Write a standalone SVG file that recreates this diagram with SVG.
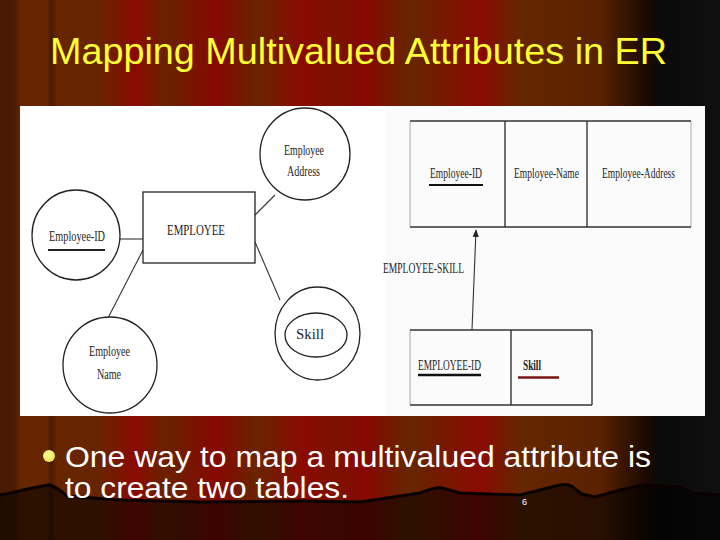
<svg xmlns="http://www.w3.org/2000/svg" width="720" height="540" viewBox="0 0 720 540">
<defs>
<linearGradient id="curtain" x1="0" y1="0" x2="720" y2="0" gradientUnits="userSpaceOnUse">
<stop offset="0" stop-color="#4a1a02"/>
<stop offset="0.0208" stop-color="#4a1c02"/>
<stop offset="0.0278" stop-color="#652600"/>
<stop offset="0.0653" stop-color="#652600"/>
<stop offset="0.0708" stop-color="#4a1a00"/>
<stop offset="0.0792" stop-color="#652600"/>
<stop offset="0.1389" stop-color="#682400"/>
<stop offset="0.1875" stop-color="#8a0a02"/>
<stop offset="0.2292" stop-color="#6a2200"/>
<stop offset="0.3014" stop-color="#860802"/>
<stop offset="0.3542" stop-color="#6a2400"/>
<stop offset="0.4236" stop-color="#8a0a02"/>
<stop offset="0.4653" stop-color="#7c1200"/>
<stop offset="0.5069" stop-color="#860802"/>
<stop offset="0.5694" stop-color="#652600"/>
<stop offset="0.6667" stop-color="#8a0a02"/>
<stop offset="0.7222" stop-color="#652600"/>
<stop offset="0.8333" stop-color="#5a2200"/>
<stop offset="0.8958" stop-color="#1c0a02"/>
<stop offset="0.9194" stop-color="#0a0a0a"/>
<stop offset="1" stop-color="#101010"/>
</linearGradient>
<radialGradient id="bulletg" cx="0.4" cy="0.35" r="0.7">
<stop offset="0" stop-color="#ffffa0"/>
<stop offset="1" stop-color="#e8e050"/>
</radialGradient>
<marker id="arrow" viewBox="0 0 10 10" refX="9" refY="5" markerWidth="7" markerHeight="7" orient="auto">
<path d="M0,1 L10,5 L0,9 z" fill="#222"/>
</marker>
<style>
.er{font-family:"Liberation Serif","Times New Roman",serif;font-size:15px;fill:#1e1e1e}
.tb{font-size:14px}
.shape{fill:#fff;stroke:#222;stroke-width:1.3}
.line{stroke:#333;stroke-width:1.1;fill:none}
.grid{stroke:#333;stroke-width:1.4}
.faint{stroke:#aaa;stroke-width:1}
.title{font-family:"Liberation Sans",Arial,sans-serif;font-size:36px;fill:#ffff33}
.body{font-family:"Liberation Sans",Arial,sans-serif;font-size:30px;fill:#ffffff}
</style>
</defs>

<!-- background curtain -->
<rect x="0" y="0" width="720" height="540" fill="url(#curtain)"/>
<path d="M0,495 L15,492 Q40,486 50,485 Q58,488 67,496 L120,500 L200,502 L300,501 L360,502 L420,493 Q435,487 442,488 L460,493 L520,495 L560,485 Q570,483 575,489 L582,494 L595,497 L620,490 L643,485 L680,487 L693,493 L720,495 L720,540 L0,540 Z" fill="#000" fill-opacity="0.55"/>
<path d="M0,495 L15,492 Q40,486 50,485 Q58,488 67,496 L120,500 L200,502 L300,501 L360,502 L420,493 Q435,487 442,488 L460,493 L520,495 L560,485 Q570,483 575,489 L582,494 L595,497 L620,490 L643,485 L680,487 L693,493 L720,495" fill="none" stroke="#0a0200" stroke-width="3"/>

<!-- title -->
<text class="title" x="50" y="64" textLength="617" lengthAdjust="spacingAndGlyphs">Mapping Multivalued Attributes in ER</text>

<!-- white panel -->
<rect x="20" y="106" width="685" height="310" fill="#ffffff"/>
<rect x="385" y="106" width="320" height="310" fill="#fbfbfb"/>

<!-- connectors -->
<g id="connectors">
<line class="line" x1="120" y1="239" x2="143" y2="239"/>
<line class="line" x1="143" y1="250" x2="108" y2="318"/>
<line class="line" x1="255" y1="215" x2="275" y2="195"/>
<line class="line" x1="255" y1="242" x2="280" y2="300"/>
<line class="line" x1="472" y1="330" x2="476" y2="230" marker-end="url(#arrow)"/>
</g>

<!-- ER nodes -->
<g id="employee">
<rect class="shape" x="143" y="192" width="112" height="71"/>
<text class="er" transform="translate(167,235) scale(0.67,1)" textLength="86.6" lengthAdjust="spacingAndGlyphs">EMPLOYEE</text>
</g>
<g id="employee-address">
<ellipse class="shape" cx="305" cy="154" rx="45" ry="46"/>
<text class="er" transform="translate(284,155) scale(0.67,1)" textLength="59.7" lengthAdjust="spacingAndGlyphs">Employee</text>
<text class="er" transform="translate(287,176) scale(0.67,1)" textLength="49.3" lengthAdjust="spacingAndGlyphs">Address</text>
</g>
<g id="employee-id">
<ellipse class="shape" cx="76" cy="235" rx="44" ry="45"/>
<text class="er" transform="translate(49,241) scale(0.67,1)" textLength="83.6" lengthAdjust="spacingAndGlyphs">Employee-ID</text>
<line x1="48" y1="250" x2="105" y2="250" stroke="#222" stroke-width="2.2"/>
</g>
<g id="employee-name">
<ellipse class="shape" cx="110" cy="365" rx="47" ry="48"/>
<text class="er" transform="translate(89,356) scale(0.67,1)" textLength="61.2" lengthAdjust="spacingAndGlyphs">Employee</text>
<text class="er" transform="translate(97,379) scale(0.67,1)" textLength="35.8" lengthAdjust="spacingAndGlyphs">Name</text>
</g>
<g id="skill">
<ellipse class="shape" cx="317.5" cy="333.5" rx="42.5" ry="46.5"/>
<ellipse class="shape" cx="316" cy="335" rx="31" ry="22"/>
<text class="er" font-size="17" transform="translate(296,339) scale(0.67,1)" textLength="41.8" lengthAdjust="spacingAndGlyphs">Skill</text>
</g>

<!-- relational tables -->
<g id="employee-table">
<line class="faint" x1="410" y1="121" x2="410" y2="227"/>
<line class="faint" x1="691" y1="121" x2="691" y2="227"/>
<line class="grid" x1="410" y1="121" x2="691" y2="121"/>
<line class="grid" x1="410" y1="227" x2="691" y2="227" stroke-width="2"/>
<line class="grid" x1="505" y1="121" x2="505" y2="227"/>
<line class="grid" x1="587" y1="121" x2="587" y2="227"/>
<text class="er tb" transform="translate(430,178) scale(0.67,1)" textLength="77.6" lengthAdjust="spacingAndGlyphs">Employee-ID</text>
<line x1="429" y1="185" x2="483" y2="185" stroke="#111" stroke-width="2.2"/>
<text class="er tb" transform="translate(514,178) scale(0.67,1)" textLength="97" lengthAdjust="spacingAndGlyphs">Employee-Name</text>
<text class="er tb" transform="translate(602,178) scale(0.67,1)" textLength="109" lengthAdjust="spacingAndGlyphs">Employee-Address</text>
</g>
<g id="employee-skill-label">
<text class="er tb" transform="translate(383,273) scale(0.67,1)" textLength="120.9" lengthAdjust="spacingAndGlyphs">EMPLOYEE-SKILL</text>
</g>
<g id="employee-skill-table">
<line class="faint" x1="410" y1="330" x2="410" y2="405"/>
<line class="grid" x1="410" y1="330" x2="592" y2="330"/>
<line class="grid" x1="410" y1="405" x2="592" y2="405"/>
<line class="grid" x1="592" y1="330" x2="592" y2="405"/>
<line class="grid" x1="511" y1="330" x2="511" y2="405" stroke-width="1.8"/>
<text class="er tb" transform="translate(418,370) scale(0.67,1)" textLength="94" lengthAdjust="spacingAndGlyphs">EMPLOYEE-ID</text>
<line x1="418" y1="375" x2="481" y2="375" stroke="#111" stroke-width="2.6"/>
<text class="er tb" font-weight="bold" transform="translate(523,370) scale(0.67,1)" textLength="26.9" lengthAdjust="spacingAndGlyphs">Skill</text>
<line x1="518" y1="377.5" x2="559" y2="377.5" stroke="#7a1414" stroke-width="2.6"/>
</g>

<!-- bullet text -->
<circle cx="49" cy="456" r="6" fill="url(#bulletg)"/>
<text class="body" x="65" y="467" textLength="586" lengthAdjust="spacingAndGlyphs">One way to map a multivalued attribute is</text>
<text class="body" x="65" y="498" textLength="284" lengthAdjust="spacingAndGlyphs">to create two tables.</text>
<text x="522" y="505" font-family="Liberation Sans, Arial, sans-serif" font-size="9" fill="#ffffff">6</text>
</svg>
